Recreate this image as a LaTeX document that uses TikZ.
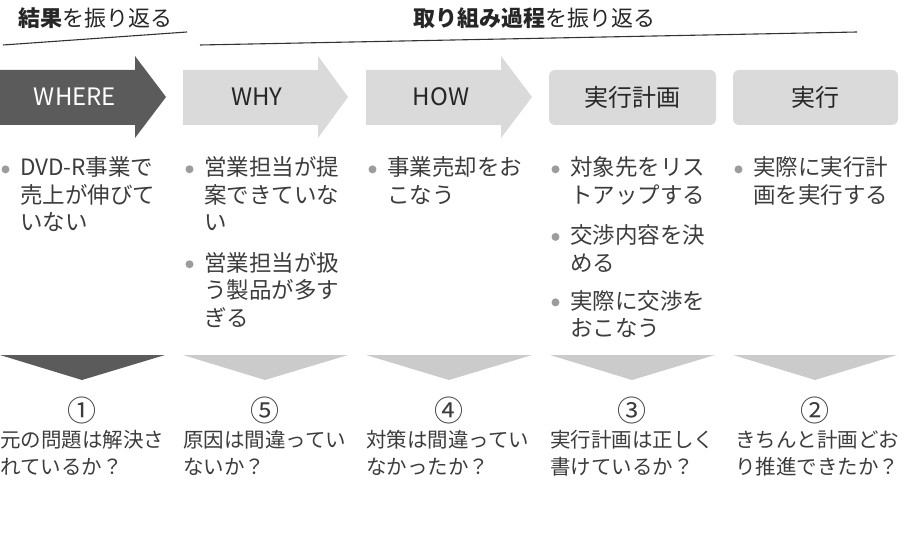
\documentclass[tikz,border=0pt]{standalone}
\usepackage{fontspec}
\setmainfont{Noto Sans CJK JP}
\usetikzlibrary{calc}

\definecolor{darkbox}{HTML}{5B5B5B}
\definecolor{lightbox}{HTML}{DADADA}
\definecolor{lighttri}{HTML}{CBCBCB}
\definecolor{dotgray}{HTML}{9C9C9C}
\definecolor{textgray}{HTML}{3C3C3C}

\tikzset{
  heading/.style={font=\fontsize{22}{26}\selectfont, text=black!85, anchor=base west, inner sep=0pt},
  rule/.style={line width=1.1pt, black!80},
  steplabel/.style={font=\fontsize{24}{28}\selectfont, text=black!85},
  item/.style={font=\fontsize{22.5}{27.5}\selectfont, text=textgray, anchor=base west, inner sep=0pt, align=left},
  ask/.style={font=\fontsize{20.5}{27}\selectfont, text=textgray, anchor=base west, inner sep=0pt, align=left},
  num/.style={font=\fontsize{29}{32}\selectfont, text=textgray},
}

\begin{document}
\begin{tikzpicture}[x=1pt, y=-1pt]
    \useasboundingbox (0,0) rectangle (921,548);

    % headings over the steps
    \node[heading] (resultHead) at (18,26.5) {\textbf{結果}を振り返る};
    \node[heading] (processHead) at (413,26.5) {\textbf{取り組み過程}を振り返る};
    \coordinate (resultL) at (3,45);
    \coordinate (resultR) at (187,32);
    \coordinate (processL) at (200,45);
    \coordinate (processR) at (857,32);
    \draw[rule] (resultL) -- (resultR);
    \draw[rule] (processL) -- (processR);

    % the five steps
    \fill[darkbox] (0,70) -- (135,70) -- (135,56) -- (166,97) -- (135,138) -- (135,125) -- (0,125) -- cycle;
    \fill[lightbox] (183,70) -- (318,70) -- (318,56) -- (348,97) -- (318,138) -- (318,125) -- (183,125) -- cycle;
    \fill[lightbox] (366,70) -- (501,70) -- (501,56) -- (532,97) -- (501,138) -- (501,125) -- (366,125) -- cycle;
    \fill[lightbox, rounded corners=6pt] (549,70) rectangle (716,125);
    \fill[lightbox, rounded corners=6pt] (733,70) rectangle (898,125);

    \node[steplabel, text=white] (where) at (75,97) {WHERE};
    \node[steplabel] (why) at (257,97) {WHY};
    \node[steplabel] (how) at (441,97) {HOW};
    \node[steplabel] (plan) at (632,97) {実行計画};
    \node[steplabel] (run) at (815,97) {実行};

    % bullet items (placed at the baseline of their last line)
    \node[item] (whereA) at (20,231) {DVD-R事業で\\売上が伸びて\\いない};
    \node[item] (whyA) at (204,231) {営業担当が提\\案できていな\\い};
    \node[item] (whyB) at (204,326) {営業担当が扱\\う製品が多す\\ぎる};
    \node[item] (howA) at (387,203.5) {事業売却をお\\こなう};
    \node[item] (planA) at (570,203.5) {対象先をリス\\トアップする};
    \node[item] (planB) at (570,271) {交渉内容を決\\める};
    \node[item] (planC) at (570,336.5) {実際に交渉を\\おこなう};
    \node[item] (runA) at (753,203.5) {実際に実行計\\画を実行する};

    \foreach \n in {whereA,whyA,whyB,howA,planA,planB,planC,runA}
        \fill[dotgray] ($(\n.north west)+(-14.5,12.5)$) circle (4);

    % triangles down to the questions
    \fill[darkbox] (0,355) -- (165,355) -- (82,380) -- cycle;
    \fill[lighttri] (183,355) -- (348,355) -- (265,380) -- cycle;
    \fill[lighttri] (366,355) -- (532,355) -- (449,380) -- cycle;
    \fill[lighttri] (550,355) -- (715,355) -- (632,380) -- cycle;
    \fill[lighttri] (733,355) -- (897,355) -- (815,380) -- cycle;

    \node[num] (whereNum) at (82,410) {①};
    \node[num] (whyNum) at (265,410) {⑤};
    \node[num] (howNum) at (449,410) {④};
    \node[num] (planNum) at (632,410) {③};
    \node[num] (runNum) at (815,410) {②};

    \node[ask] (whereAsk) at (0,474.8) {元の問題は解決さ\\れているか？};
    \node[ask] (whyAsk) at (183,474.8) {原因は間違ってい\\ないか？};
    \node[ask] (howAsk) at (366,474.8) {対策は間違ってい\\なかったか？};
    \node[ask] (planAsk) at (550,474.8) {実行計画は正しく\\書けているか？};
    \node[ask] (runAsk) at (735,474.8) {きちんと計画どお\\り推進できたか？};
\end{tikzpicture}
\end{document}
